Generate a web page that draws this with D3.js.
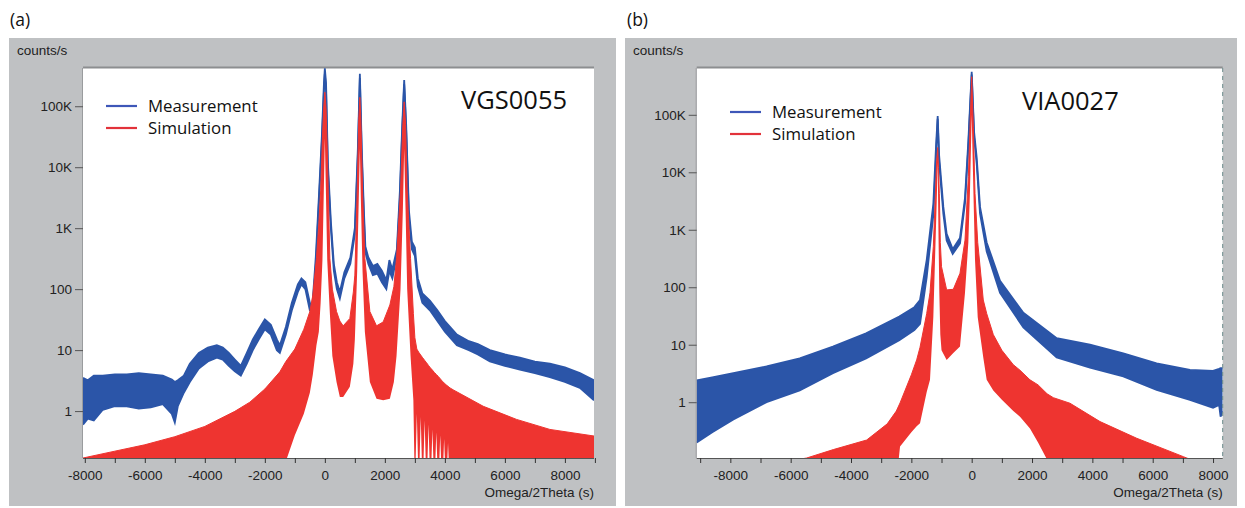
<!DOCTYPE html>
<html><head><meta charset="utf-8">
<script src="https://cdn.jsdelivr.net/npm/d3@7"></script>
<style>
html,body{margin:0;padding:0;background:#fff;}
svg{display:block;}
</style></head>
<body>
<svg id="chart" width="1245" height="508"></svg>
<script>
// ---------------- DATA ----------------
// shared y ticks
const yTickValues = [1, 10, 100, 1000, 10000, 100000];
const yTickLabels = ["1", "10", "100", "1K", "10K", "100K"];

// Panel (a) VGS0055
const aXTicks = [-8000,-7000,-6000,-5000,-4000,-3000,-2000,-1000,0,1000,2000,3000,4000,5000,6000,7000,8000,9000];
const aMeasX  = [-8060,-7900,-7700,-7400,-7000,-6600,-6200,-5800,-5400,-5100,-5000,-4900,-4700,-4500,-4200,-3900,-3600,-3400,-3200,-3000,-2800,-2600,-2400,-2200,-2000,-1800,-1600,-1500,-1300,-1100,-900,-780,-650,-500,-420,-300,-200,-100,-30,0,40,100,200,300,400,500,650,850,1000,1100,1167,1230,1300,1350,1450,1600,1750,1900,2050,2150,2250,2400,2500,2580,2644,2710,2800,2900,3000,3100,3250,3500,3750,4000,4400,4800,5100,5500,6000,6500,7000,7500,8000,8500,8970];
const aMeasLo = [0.6,0.75,0.7,1.05,1.2,1.2,1.1,1.15,1.3,0.9,0.65,1.2,2.0,3.0,5,6.5,7.5,7,5.5,4.5,3.8,6,10,15,22,18,10,9,18,45,90,120,100,45,40,250,2500,25000,180000,340000,180000,9000,1000,200,100,70,150,260,800,15000,290000,15000,1500,400,260,170,180,130,100,200,150,350,3000,40000,230000,40000,1500,450,350,110,60,45,30,20,12,10,8.5,6.5,5.5,4.8,4.2,3.6,3.0,2.4,1.5];
const aMeasHi = [3.5,3.2,3.8,3.8,4.0,4.0,4.2,4.0,3.8,3.3,3.0,3.2,3.8,6,9,11,12,11,9,7,5.5,9,15,22,32,26,15,12,24,60,120,150,130,60,50,350,3200,32000,240000,420000,240000,12000,1300,260,130,90,190,330,1000,20000,340000,20000,2000,500,330,240,260,200,140,300,210,450,4000,50000,270000,50000,2000,600,480,150,85,65,45,30,18,14,12.5,10,8.5,7.5,6.5,6,5.2,4.2,3.2];
const aSimX   = [-8060,-7000,-6000,-5000,-4000,-3000,-2500,-2000,-1500,-1300,-1000,-700,-500,-400,-280,-200,-140,-80,-40,0,40,80,167,250,389,500,611,833,950,1000,1078,1130,1167,1200,1256,1333,1500,1722,1944,2167,2300,2389,2522,2600,2644,2690,2744,2856,2950,3000,3065,3130,3195,3260,3325,3390,3455,3520,3585,3650,3715,3780,3845,3910,3975,4040,4105,4170,4300,5278,6389,7500,8970];
const aSimHi  = [0.17,0.22,0.28,0.38,0.56,0.99,1.4,2.3,4.4,6.5,10.4,22,43,80,320,1200,4100,30000,90000,170000,90000,20000,320,100,43,30,25,33,90,170,4100,60000,140000,60000,4100,320,43,25,29,55,110,320,4100,50000,118000,50000,4100,320,40,16,10.4,9.2,8.3,7.5,6.8,6.2,5.6,5.1,4.7,4.3,4.0,3.7,3.4,3.1,2.9,2.7,2.55,2.4,2.2,1.2,0.73,0.5,0.39];
const aSimLo  = [0.05,0.05,0.05,0.05,0.05,0.05,0.05,0.05,0.05,0.15,0.4,0.9,2.0,4,12,20,60,300,3000,30000,3000,300,40,8,3,1.7,1.7,2.5,6,15,200,3000,20000,3000,200,20,3,1.6,1.5,1.6,3,8,100,2000,20000,2000,100,8,1.5,0.05,0.9,0.05,0.8,0.05,0.7,0.05,0.6,0.05,0.5,0.05,0.45,0.05,0.4,0.05,0.35,0.05,0.3,0.05,0.05,0.05,0.05,0.05,0.05];

// Panel (b) VIA0027
const bXTicks = [-9000,-8000,-7000,-6000,-5000,-4000,-3000,-2000,-1000,0,1000,2000,3000,4000,5000,6000,7000,8000];
const bMeasX  = [-9115,-8600,-7900,-6800,-5700,-4600,-3500,-2400,-1900,-1713,-1491,-1272,-1180,-1127,-1080,-940,-830,-630,-388,-222,-111,0,80,166,276,497,939,1712,2817,3921,5025,6130,7235,8000,8200,8250,8320];
const bMeasLo = [0.2,0.3,0.5,1.0,1.6,3.2,5.8,12,18,23,150,1800,20000,85000,15000,1900,650,380,580,2900,28000,500000,40000,14000,1900,420,80,20,6,4.0,2.8,1.64,1.1,0.8,0.9,0.56,0.7];
const bMeasHi = [2.4,2.7,3.2,4.2,5.8,9.3,15.8,31,45,60,300,2800,30000,95000,20000,2500,850,460,720,3600,35000,560000,50000,18000,2500,600,130,36,13,10,7.1,4.76,3.65,3.5,3.8,3.9,3.9];
const bSimX   = [-9115,-5470,-4585,-3480,-2800,-2500,-2375,-2000,-1824,-1713,-1491,-1382,-1272,-1160,-1127,-1100,-1073,-1040,-1000,-830,-610,-388,-222,-111,-55,0,55,110,200,384,497,716,1000,1379,1601,1932,2200,2500,2705,3258,4253,5469,7014,8320];
const bSimHi  = [0.05,0.107,0.15,0.22,0.42,0.7,0.97,3.0,5.45,9,35,80,510,16000,27000,12000,4300,600,228,90,92,175,660,8400,60000,460000,60000,4300,600,60,35,15,8,4.5,3.6,2.45,2.0,1.4,1.2,0.96,0.46,0.236,0.113,0.06];
const bSimLo  = [0.04,0.04,0.04,0.04,0.04,0.04,0.17,0.3,0.38,0.43,1.5,2.45,30,3000,15000,800,80,15,8,5.45,7.2,9.3,80,600,5000,100000,5000,300,30,6,2.45,1.6,1.1,0.7,0.56,0.35,0.2,0.1,0.04,0.04,0.04,0.04,0.04,0.04];

// ---------------- DRAW ----------------
const svg = d3.select("#chart");
const BLUE = "#2b55a8", RED = "#ee3430", GRAY = "#bfc1c3";
const tickFont = "'Liberation Sans', Arial, sans-serif";
const textFont = "'Open Sans', 'Noto Sans', sans-serif";

function zip3(xs, a, b) { return xs.map((x, i) => ({x, lo: a[i], hi: b[i]})); }

const panels = [
  {id: "a", tag: "(a)", tagX: 10, frame: [9, 38, 607, 468], plot: [83, 68, 594, 458],
   xDom: [-8060, 8970], yDom: [0.17, 424000], xTicks: aXTicks,
   meas: zip3(aMeasX, aMeasLo, aMeasHi), sim: zip3(aSimX, aSimLo, aSimHi),
   name: "VGS0055", nameX: 461, nameY: 109, legX: 106, legY: 106, dashedRight: false},
  {id: "b", tag: "(b)", tagX: 627, frame: [625, 38, 612, 468], plot: [696.7, 68, 1222.7, 458],
   xDom: [-9115, 8320], yDom: [0.107, 652000], xTicks: bXTicks,
   meas: zip3(bMeasX, bMeasLo, bMeasHi), sim: zip3(bSimX, bSimLo, bSimHi),
   name: "VIA0027", nameX: 1022, nameY: 110, legX: 730, legY: 112, dashedRight: true}
];

panels.forEach(p => {
  const [L, T, R, B] = p.plot;
  const g = svg.append("g");
  // panel tag
  svg.append("text").attr("x", p.tagX).attr("y", 26).attr("font-family", textFont)
     .attr("font-size", 17.5).attr("fill", "#111").text(p.tag);
  // gray frame
  g.append("rect").attr("x", p.frame[0]).attr("y", p.frame[1]).attr("width", p.frame[2])
   .attr("height", p.frame[3]).attr("fill", GRAY);
  // plot background
  g.append("rect").attr("x", L).attr("y", T).attr("width", R - L).attr("height", B - T).attr("fill", "#fff");
  g.append("line").attr("x1", L).attr("x2", R).attr("y1", T - 0.5).attr("y2", T - 0.5)
   .attr("stroke", "#8c8e90").attr("stroke-width", 2);
  g.append("line").attr("x1", L - 0.5).attr("x2", L - 0.5).attr("y1", T).attr("y2", B)
   .attr("stroke", "#9a9c9e").attr("stroke-width", 1);

  const x = d3.scaleLinear().domain(p.xDom).range([L, R]);
  const y = d3.scaleLog().domain(p.yDom).range([B, T]);

  const clipId = "clip-" + p.id;
  svg.append("clipPath").attr("id", clipId).append("rect")
     .attr("x", L).attr("y", T).attr("width", R - L).attr("height", B - T);
  const plotG = g.append("g").attr("clip-path", `url(#${clipId})`);

  const area = d3.area().x(d => x(d.x)).y0(d => y(d.lo)).y1(d => y(d.hi));
  const lineHi = d3.line().x(d => x(d.x)).y(d => y(d.hi));
  const lineLo = d3.line().x(d => x(d.x)).y(d => y(d.lo));

  // measurement (blue)
  plotG.append("path").datum(p.meas).attr("d", area).attr("fill", BLUE);
  plotG.append("path").datum(p.meas).attr("d", lineHi).attr("fill", "none").attr("stroke", BLUE).attr("stroke-width", 1.8);
  plotG.append("path").datum(p.meas).attr("d", lineLo).attr("fill", "none").attr("stroke", BLUE).attr("stroke-width", 1.8);
  // simulation (red)
  plotG.append("path").datum(p.sim).attr("d", area).attr("fill", RED);
  plotG.append("path").datum(p.sim).attr("d", lineHi).attr("fill", "none").attr("stroke", RED).attr("stroke-width", 1);

  if (p.dashedRight) {
    g.append("line").attr("x1", R).attr("x2", R).attr("y1", T).attr("y2", B)
     .attr("stroke", "#6a8a8a").attr("stroke-width", 1).attr("stroke-dasharray", "4,4");
  }

  // x axis
  const xAxis = d3.axisBottom(x).tickValues(p.xTicks)
    .tickFormat(d => (d % 2000 === 0 && d <= 8000) ? String(d) : "")
    .tickSize(5).tickPadding(7);
  const xg = g.append("g").attr("transform", `translate(0,${B})`).call(xAxis);
  xg.select(".domain").attr("stroke", "#555").attr("d", `M${L},0.5H${R}`);
  xg.selectAll(".tick line").attr("stroke", "#333");
  xg.selectAll("text").attr("font-family", tickFont).attr("font-size", 13.5).attr("fill", "#222");

  // y axis
  const yAxis = d3.axisLeft(y).tickValues(yTickValues)
    .tickFormat((d, i) => yTickLabels[i]).tickSize(8).tickPadding(3);
  const yg = g.append("g").attr("transform", `translate(${L},0)`).call(yAxis);
  yg.select(".domain").remove();
  yg.selectAll(".tick line").attr("stroke", "#555");
  yg.selectAll("text").attr("font-family", tickFont).attr("font-size", 13.5).attr("fill", "#222");

  // axis titles
  g.append("text").attr("x", p.frame[0] + 8).attr("y", 55).attr("font-family", tickFont)
   .attr("font-size", 13.5).attr("fill", "#222").text("counts/s");
  g.append("text").attr("x", R).attr("y", 497).attr("text-anchor", "end").attr("font-family", tickFont)
   .attr("font-size", 13.5).attr("fill", "#222").text("Omega/2Theta (s)");

  // sample name
  g.append("text").attr("x", p.nameX).attr("y", p.nameY).attr("font-family", textFont)
   .attr("font-size", 25.5).attr("fill", "#111").text(p.name);

  // legend
  const leg = [{label: "Measurement", color: "#3e57b8"}, {label: "Simulation", color: "#e2323a"}];
  leg.forEach((s, i) => {
    const ly = p.legY + i * 22;
    g.append("line").attr("x1", p.legX).attr("x2", p.legX + 31).attr("y1", ly).attr("y2", ly)
     .attr("stroke", s.color).attr("stroke-width", 2.2);
    g.append("text").attr("x", p.legX + 42).attr("y", ly + 6).attr("font-family", textFont)
     .attr("font-size", 16.8).attr("fill", "#111").text(s.label);
  });
});
</script>
</body></html>
